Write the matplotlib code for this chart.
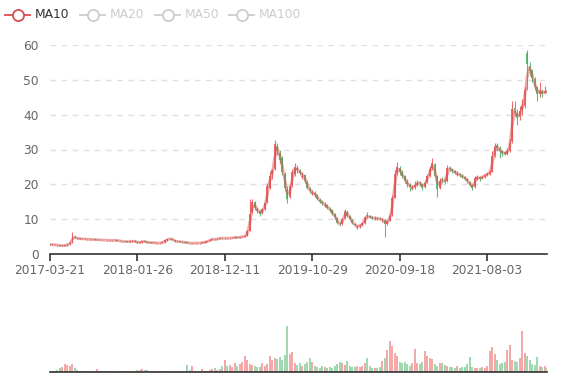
import matplotlib
matplotlib.use("Agg")
import matplotlib.pyplot as plt
from matplotlib.lines import Line2D
import numpy as np
import pandas as pd

# weekly-ish candles (one point ~ 5 trading days)
closes = [
    2.7, 2.7, 2.6, 2.5, 2.4, 2.4, 2.5, 2.8, 3.3, 5.2,
    4.6, 4.4, 4.4, 4.3, 4.3, 4.2, 4.2, 4.2, 4.1, 4.1,
    4.0, 4.0, 4.0, 3.9, 3.9, 3.9, 4.0, 3.8, 3.7, 3.6,
    3.6, 3.5, 3.6, 3.8, 3.5, 3.3, 3.4, 3.7, 3.5, 3.3,
    3.2, 3.2, 3.2, 3.1, 3.2, 3.4, 3.9, 4.3, 4.4, 4.0,
    3.6, 3.6, 3.5, 3.4, 3.3, 3.2, 3.1, 3.1, 3.2, 3.1,
    3.2, 3.3, 3.5, 3.7, 4.1, 4.3, 4.2, 4.4, 4.6, 4.5,
    4.6, 4.5, 4.6, 4.7, 4.8, 4.7, 4.9, 5.0, 5.2, 6.5,
    11.5, 15.0, 13.2, 12.4, 11.6, 12.8, 14.5, 19.5, 22.5, 24.0,
    31.5, 29.5, 27.0, 23.5, 19.0, 15.8, 19.5, 23.5, 25.0, 24.0,
    23.2, 22.5, 21.0, 19.0, 18.0, 17.4, 17.0, 15.8, 15.0, 14.5,
    14.0, 13.2, 12.6, 11.5, 10.5, 8.8, 8.5, 10.0, 12.3, 11.0,
    10.0, 8.8, 8.2, 7.8, 8.2, 8.8, 10.5, 10.8, 10.6, 10.3,
    10.3, 10.2, 10.0, 9.9, 8.5, 9.5, 11.0, 16.0, 23.0, 25.0,
    23.5, 22.5, 21.0, 20.0, 19.3, 19.0, 19.8, 20.5, 20.3, 19.0,
    20.5, 22.3, 24.5, 26.0, 22.5, 18.8, 21.0, 21.2, 20.8, 24.8,
    24.3, 23.8, 23.3, 23.0, 22.6, 22.2, 21.6, 20.9, 19.8, 19.0,
    21.8, 22.0, 21.6, 22.2, 22.7, 23.0, 23.5, 28.0, 31.0, 30.5,
    29.5, 29.0, 28.8, 29.5, 32.0, 41.5, 40.5, 39.0, 41.0, 42.5,
    47.0, 54.5, 52.5, 50.5, 48.0, 45.8, 47.0, 46.0, 46.8, 46.5,
]

opens = [
    2.75, 2.7, 2.7, 2.6, 2.5, 2.4, 2.4, 2.5, 2.8, 3.3,
    5.0, 4.6, 4.4, 4.4, 4.3, 4.3, 4.2, 4.2, 4.2, 4.1,
    4.1, 4.0, 4.0, 4.0, 3.9, 3.9, 3.9, 4.0, 3.8, 3.7,
    3.6, 3.6, 3.5, 3.6, 3.8, 3.5, 3.3, 3.4, 3.7, 3.5,
    3.3, 3.2, 3.2, 3.2, 3.1, 3.2, 3.4, 3.9, 4.3, 4.4,
    4.0, 3.6, 3.6, 3.5, 3.4, 3.3, 3.2, 3.1, 3.1, 3.2,
    3.1, 3.2, 3.3, 3.5, 3.7, 4.1, 4.3, 4.2, 4.4, 4.6,
    4.5, 4.6, 4.5, 4.6, 4.7, 4.8, 4.7, 4.9, 5.0, 5.2,
    6.6, 12.0, 14.8, 13.0, 12.3, 11.8, 13.0, 14.8, 19.0, 23.0,
    24.5, 31.0, 29.0, 27.5, 23.0, 18.5, 16.5, 19.8, 23.0, 24.8,
    23.8, 22.0, 22.6, 20.8, 18.6, 17.2, 17.6, 16.9, 15.6, 14.8,
    13.8, 14.0, 12.8, 12.5, 11.4, 10.3, 8.7, 8.6, 10.2, 12.0,
    11.0, 9.9, 8.7, 7.6, 7.9, 8.2, 8.9, 11.2, 10.9, 10.5,
    10.2, 10.4, 10.1, 9.7, 9.8, 8.6, 9.6, 11.2, 16.2, 23.2,
    24.8, 23.4, 22.3, 20.8, 19.9, 18.7, 19.1, 19.9, 20.6, 20.2,
    19.2, 20.6, 22.4, 24.6, 25.8, 22.3, 19.0, 21.6, 21.0, 21.0,
    24.7, 24.2, 23.7, 22.8, 23.0, 22.5, 22.1, 21.5, 20.8, 19.7,
    19.2, 21.6, 22.0, 21.7, 22.2, 22.8, 23.1, 23.6, 28.2, 31.2,
    30.4, 29.6, 29.2, 28.8, 29.6, 32.5, 42.0, 40.6, 39.2, 41.2,
    42.6, 57.8, 54.0, 52.8, 50.2, 47.8, 45.9, 46.8, 46.1, 46.8,
]

highs = [
    2.85, 2.8, 2.8, 2.7, 2.6, 2.5, 2.6, 2.9, 3.4, 6.2,
    5.2, 4.7, 4.6, 4.5, 4.5, 4.4, 4.3, 4.3, 4.3, 4.2,
    4.2, 4.1, 4.1, 4.1, 4.0, 4.0, 4.1, 4.1, 3.9, 3.8,
    3.7, 3.7, 3.7, 3.9, 3.9, 3.6, 3.5, 3.8, 3.8, 3.6,
    3.4, 3.3, 3.3, 3.3, 3.3, 3.5, 4.0, 4.4, 4.6, 4.5,
    4.1, 3.7, 3.7, 3.6, 3.5, 3.4, 3.3, 3.2, 3.3, 3.3,
    3.3, 3.4, 3.6, 3.8, 4.2, 4.4, 4.4, 4.5, 4.7, 4.7,
    4.7, 4.7, 4.7, 4.8, 4.9, 4.9, 5.0, 5.1, 5.3, 7.0,
    15.8, 15.8, 15.2, 13.6, 12.6, 13.3, 15.0, 20.5, 23.8, 24.5,
    32.8, 32.0, 29.8, 28.0, 23.5, 19.5, 20.0, 24.3, 26.0, 25.5,
    24.5, 23.6, 22.9, 21.2, 19.2, 18.3, 18.0, 17.2, 16.0, 15.4,
    14.8, 14.3, 13.4, 12.8, 11.7, 10.5, 9.1, 10.4, 13.0, 12.5,
    11.3, 10.1, 9.0, 8.4, 8.6, 9.3, 11.0, 12.0, 11.3, 10.9,
    10.8, 10.7, 10.5, 10.4, 10.0, 9.9, 11.6, 17.0, 24.0, 26.5,
    25.3, 24.0, 22.8, 21.5, 20.4, 19.9, 21.0, 21.2, 21.0, 20.5,
    21.0, 23.0, 25.2, 27.5, 26.2, 22.6, 21.8, 22.2, 21.7, 25.5,
    25.2, 24.6, 24.1, 23.7, 23.3, 22.9, 22.4, 21.8, 21.0, 20.0,
    22.5, 22.6, 22.4, 22.6, 23.1, 23.4, 24.0, 29.5, 32.0, 31.8,
    31.0, 30.0, 29.6, 30.3, 33.0, 44.0, 44.0, 41.5, 42.5, 44.5,
    48.0, 58.6, 55.0, 53.2, 50.8, 48.3, 49.5, 47.5, 48.2, 47.4,
]

lows = [
    2.6, 2.6, 2.5, 2.4, 2.3, 2.3, 2.3, 2.4, 2.7, 3.2,
    4.5, 4.3, 4.3, 4.2, 4.2, 4.1, 4.1, 4.1, 4.0, 4.0,
    3.9, 3.9, 3.9, 3.8, 3.8, 3.8, 3.8, 3.7, 3.6, 3.5,
    3.5, 3.4, 3.4, 3.5, 3.4, 3.2, 3.2, 3.3, 3.4, 3.2,
    3.1, 3.1, 3.1, 3.0, 3.0, 3.1, 3.3, 3.8, 4.2, 3.9,
    3.5, 3.5, 3.4, 3.3, 3.2, 3.1, 3.0, 3.0, 3.0, 3.0,
    3.0, 3.1, 3.2, 3.4, 3.6, 4.0, 4.1, 4.1, 4.3, 4.4,
    4.4, 4.4, 4.4, 4.5, 4.6, 4.6, 4.6, 4.8, 4.9, 5.1,
    6.5, 11.8, 12.5, 11.9, 11.0, 11.5, 12.6, 14.5, 18.6, 21.5,
    24.0, 28.5, 26.2, 22.8, 18.0, 14.5, 16.0, 19.2, 22.5, 23.2,
    22.6, 21.6, 20.5, 18.6, 17.4, 16.8, 16.5, 15.4, 14.6, 14.0,
    13.4, 12.8, 12.2, 11.2, 10.1, 8.5, 8.0, 8.4, 10.0, 10.7,
    9.7, 8.5, 7.9, 7.3, 7.6, 8.0, 8.7, 10.3, 10.2, 10.0,
    9.9, 9.9, 9.7, 9.3, 5.0, 8.4, 9.4, 11.0, 16.0, 22.8,
    22.8, 21.8, 20.4, 19.3, 18.2, 18.3, 18.8, 19.5, 19.6, 18.5,
    18.9, 20.3, 22.0, 24.0, 22.0, 16.5, 18.6, 20.4, 20.2, 20.8,
    23.8, 23.3, 22.9, 22.5, 22.2, 21.8, 21.2, 20.5, 19.4, 18.3,
    19.0, 21.3, 21.1, 21.4, 21.9, 22.4, 22.8, 23.4, 27.8, 29.6,
    27.5, 28.2, 28.3, 28.5, 29.4, 32.0, 39.5, 37.0, 38.6, 40.0,
    42.0, 47.0, 51.0, 49.5, 47.0, 44.0, 45.2, 45.0, 45.8, 45.9,
]

volumes = [
    1, 1, 1, 2, 4, 5, 8, 7, 6, 8,
    4, 2, 1.5, 1, 1, 1.5, 1, 1, 1, 3,
    1, 1, 1.5, 1, 1, 1, 1.5, 1, 1, 1,
    1, 1.5, 1, 1, 1, 2, 2, 3, 2, 2,
    1.5, 1, 1, 1, 1, 1, 1, 1, 1, 1,
    1, 1, 1, 1, 1, 7, 2, 6, 1.5, 1,
    1, 3, 1, 1, 2, 3, 4, 2, 3, 6,
    12, 6, 7, 5, 9, 6, 8, 10, 16, 12,
    8, 7, 6, 5, 5, 9, 6, 8, 16, 12,
    14, 13, 15, 12, 17, 46, 18, 20, 9, 7,
    9, 6, 8, 10, 14, 10, 6, 5, 4, 6,
    5, 4, 5, 4, 6, 8, 10, 9, 7, 11,
    6, 5, 5, 6, 5, 6, 9, 14, 6, 4,
    4, 4, 5, 11, 14, 22, 31, 26, 19, 16,
    10, 9, 10, 8, 6, 9, 23, 9, 8, 10,
    21, 16, 14, 13, 8, 6, 9, 9, 7, 6,
    5, 5, 4, 6, 4, 5, 5, 8, 15, 5,
    4, 4, 4, 5, 4, 6, 21, 25, 18, 12,
    8, 9, 10, 22, 27, 12, 11, 10, 14, 41,
    19, 16, 12, 8, 7, 15, 6, 5, 6, 4,
]

tick_labels = ["2017-03-21", "2018-01-26", "2018-12-11",
               "2019-10-29", "2020-09-18", "2021-08-03"]
label_step = 35

legend_names = ["MA10", "MA20", "MA50", "MA100"]

UP = "#eb5454"
DOWN = "#47b262"

df = pd.DataFrame({"open": opens, "close": closes, "high": highs,
                   "low": lows, "volume": volumes})
# one point here ~ 5 trading days, so a daily MA10 is about 2 points
df["ma10"] = df["close"].rolling(2, min_periods=1).mean()

n = len(df)
x = np.arange(n)
up = df["close"] >= df["open"]
colors = np.where(up, UP, DOWN)

fig = plt.figure(figsize=(5.77, 3.80), dpi=100)
ax = fig.add_axes([50 / 577, 126 / 380, 497 / 577, 209 / 380])
axv = fig.add_axes([50 / 577, 8 / 380, 497 / 577, 60 / 380])

# --- candles ---
ax.vlines(x, df["low"], df["high"], colors=colors, linewidth=0.8,
          alpha=0.85, zorder=2)
body_h = (df["close"] - df["open"]).abs().clip(lower=0.12)
body_b = df[["open", "close"]].min(axis=1)
ax.bar(x, body_h, bottom=body_b, width=0.75, color=colors, alpha=0.85,
       linewidth=0, zorder=2)

# --- MA10 ---
ax.plot(x, df["ma10"], color="#dd5555", alpha=0.5, linewidth=2.0, zorder=3)

ax.set_xlim(0, n - 1)
ax.set_ylim(0, 60)
ax.set_yticks(range(0, 61, 10))
ax.yaxis.grid(True, linestyle=(0, (4, 4)), color="#e0e0e0", linewidth=1)
ax.set_axisbelow(True)
for s in ["top", "right", "left"]:
    ax.spines[s].set_visible(False)
ax.spines["bottom"].set_color("#333333")
ax.spines["bottom"].set_linewidth(1.2)
ax.tick_params(axis="y", length=0, labelsize=8.8, labelcolor="#666666", pad=8)
tick_pos = list(range(0, n, label_step))[:len(tick_labels)]
ax.set_xticks(tick_pos)
ax.set_xticklabels(tick_labels)
ax.tick_params(axis="x", length=5, width=1.2, color="#333333",
               labelsize=8.8, labelcolor="#666666", pad=2)

# --- volume ---
axv.bar(x, df["volume"], width=0.8, color=colors, alpha=0.5, linewidth=0)
axv.set_xlim(0, n - 1)
axv.set_ylim(0, max(volumes) * 60 / 46)
axv.set_xticks([])
axv.set_yticks([])
for s in ["top", "right", "left"]:
    axv.spines[s].set_visible(False)
axv.spines["bottom"].set_color("#333333")
axv.spines["bottom"].set_linewidth(1.2)

# --- legend (only MA10 active) ---
icon_x = [5, 80, 155, 229]
ly = 1 - 15 / 380
for name, xpx in zip(legend_names, icon_x):
    active = name == "MA10"
    col = "#d94e4e" if active else "#cccccc"
    fig.add_artist(Line2D([xpx / 577, (xpx + 25) / 577], [ly, ly],
                          color=col, linewidth=1.3, transform=fig.transFigure))
    fig.add_artist(Line2D([(xpx + 12.5) / 577], [ly], marker="o", markersize=8,
                          markerfacecolor="white", markeredgecolor=col,
                          markeredgewidth=1.3, transform=fig.transFigure))
    fig.text((xpx + 30) / 577, ly, name, fontsize=8.8, va="center", ha="left",
             color="#333333" if active else "#cccccc")

fig.savefig("out.png", dpi=100)
